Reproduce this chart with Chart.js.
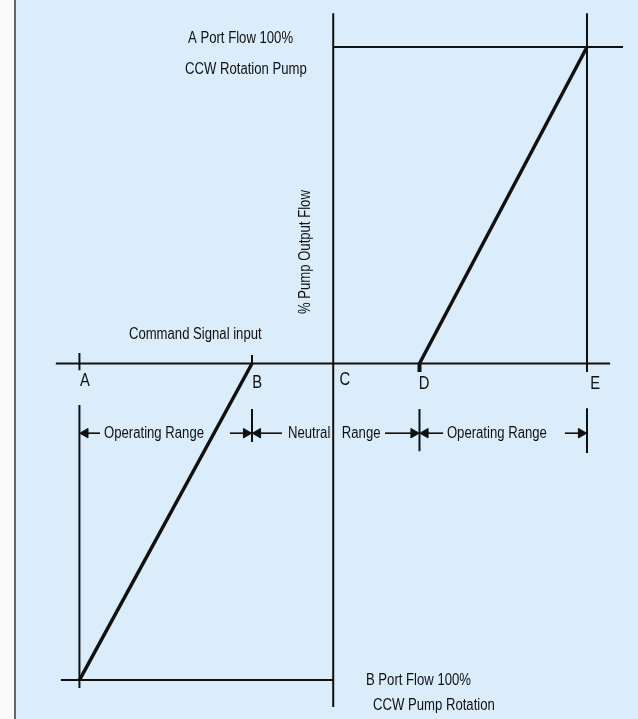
<!DOCTYPE html>
<html>
<head>
<meta charset="utf-8">
<script src="https://cdn.jsdelivr.net/npm/chart.js@4/dist/chart.umd.min.js"></script>
<style>
  body { margin: 0; background: #fafafa; }
  #panel { position: absolute; left: 14px; top: 0; width: 622px; height: 719px; background: #dbecfb; border-left: 2px solid #666; }
  #myChart { position: absolute; left: 0; top: 0; }
</style>
</head>
<body>
<div id="panel"></div>
<canvas id="myChart" width="638" height="719"></canvas>
<script>
// Command signal positions (A..E) and pump flow values
const signalLabels = ['A', 'B', 'C', 'D', 'E'];
const signalValues = [-100, -32, 0, 34, 100];
const flowLimits = [-100, 0, 100];   // B port 100%, zero flow, A port 100%
const portAFlow = [0, 100];          // flow at D and E
const portBFlow = [-100, 0];         // flow at A and B

const ink = '#111';
const font = "'Liberation Sans', Arial, sans-serif";
const narrow = 0.82;   // squeeze text to look like a condensed face

// one straight segment as a scatter dataset
function seg(x1, y1, x2, y2, w) {
    return {
        data: [{ x: x1, y: y1 }, { x: x2, y: y2 }],
        showLine: true, borderColor: ink, borderWidth: w || 2,
        pointRadius: 0, clip: false
    };
}

// arrow: shaft from -> tip, filled triangle head at tip
function arrow(from, tip, y) {
    const dir = tip > from ? 1 : -1;
    return [
        seg(from, y, tip - dir * 1.5, y, 1.6),
        {
            data: [{ x: tip - dir * 2.3, y: y }],
            pointStyle: 'triangle', rotation: dir > 0 ? 90 : 270,
            pointRadius: 5.5, pointBackgroundColor: ink, pointBorderColor: ink,
            pointBorderWidth: 1, showLine: false, clip: false
        }
    ];
}

const A = signalValues[0], B = signalValues[1], C = signalValues[2], D = signalValues[3], E = signalValues[4];
const top100 = flowLimits[2], zero = flowLimits[1], bot100 = flowLimits[0];
const rowY = -22;

const datasets = [
    seg(-109.3, zero, 109.1, zero),          // command signal axis
    seg(C, 110.7, C, -108.5),                // flow axis
    seg(C, top100, 114.2, top100),           // A port 100%
    seg(E, 110.7, E, -2.7),
    seg(-107.3, bot100, C, bot100),          // B port 100%
    seg(A, -13.1, A, -102.5),
    seg(A, 3.3, A, -2.1),
    seg(B, 2.7, B, zero),
    seg(D, zero, D, -2.7, 4),
    seg(B, -14.4, B, -24.8),
    seg(D, -14.4, D, -27.7),
    seg(E, -14.1, E, -28.3),
    {   // A port flow
        data: [{ x: D, y: portAFlow[0] }, { x: E, y: portAFlow[1] }],
        showLine: true, borderColor: ink, borderWidth: 3.5, pointRadius: 0, clip: false
    },
    {   // B port flow
        data: [{ x: A, y: portBFlow[0] }, { x: B, y: portBFlow[1] }],
        showLine: true, borderColor: ink, borderWidth: 3.5, pointRadius: 0, clip: false
    },
    ...arrow(-91.9, A, rowY),
    ...arrow(-40.7, B, rowY),
    ...arrow(-20.2, B, rowY),
    ...arrow(20.4, D, rowY),
    ...arrow(43.3, D, rowY),
    ...arrow(91.3, E, rowY)
];

// text labels, in chart values
const notes = [
    { t: 'A Port Flow 100%', x: -57.2, y: 102.5 },
    { t: 'CCW Rotation Pump', x: -58.4, y: 93.0 },
    { t: '% Pump Output Flow', x: -10.7, y: 35.2, rot: true },
    { t: 'Command Signal input', x: -80.5, y: 9.3 },
    { t: 'Operating Range', x: -90.3, y: rowY },
    { t: 'Neutral', x: -17.8, y: rowY },
    { t: 'Range', x: 3.4, y: rowY },
    { t: 'Operating Range', x: 44.8, y: rowY },
    { t: 'B Port Flow 100%', x: 12.9, y: -100.3 },
    { t: 'CCW Pump Rotation', x: 15.7, y: -108.2 }
];
const letterX = [-97.8, -30.0, 4.6, 35.8, 103.2];
const letterY = [-5.5, -6.1, -5.2, -6.5, -6.5];

const textPlugin = {
    id: 'texts',
    afterDatasetsDraw(chart) {
        const ctx = chart.ctx, xs = chart.scales.x, ys = chart.scales.y;
        ctx.save();
        ctx.fillStyle = ink;
        ctx.textBaseline = 'middle';
        ctx.font = '16px ' + font;
        notes.forEach(n => {
            const px = xs.getPixelForValue(n.x), py = ys.getPixelForValue(n.y);
            ctx.save();
            ctx.translate(px, py);
            if (n.rot) {
                ctx.rotate(-Math.PI / 2);
                ctx.scale(narrow, 1);
                ctx.textAlign = 'center';
            } else {
                ctx.scale(narrow, 1);
                ctx.textAlign = 'left';
            }
            ctx.fillText(n.t, 0, 0);
            ctx.restore();
        });
        ctx.font = '18px ' + font;
        ctx.textAlign = 'center';
        signalLabels.forEach((l, i) => {
            ctx.save();
            ctx.translate(xs.getPixelForValue(letterX[i]), ys.getPixelForValue(letterY[i]));
            ctx.scale(narrow, 1);
            ctx.fillText(l, 0, 0);
            ctx.restore();
        });
        ctx.restore();
    }
};

new Chart(document.getElementById('myChart'), {
    type: 'scatter',
    data: { datasets: datasets },
    options: {
        responsive: false,
        animation: false,
        layout: { padding: 0, autoPadding: false },
        plugins: { legend: { display: false }, tooltip: { enabled: false } },
        scales: {
            x: { type: 'linear', min: -131.3, max: 120.1, display: false },
            y: { type: 'linear', min: -112.3, max: 114.85, display: false }
        }
    },
    plugins: [textPlugin]
});
</script>
</body>
</html>
